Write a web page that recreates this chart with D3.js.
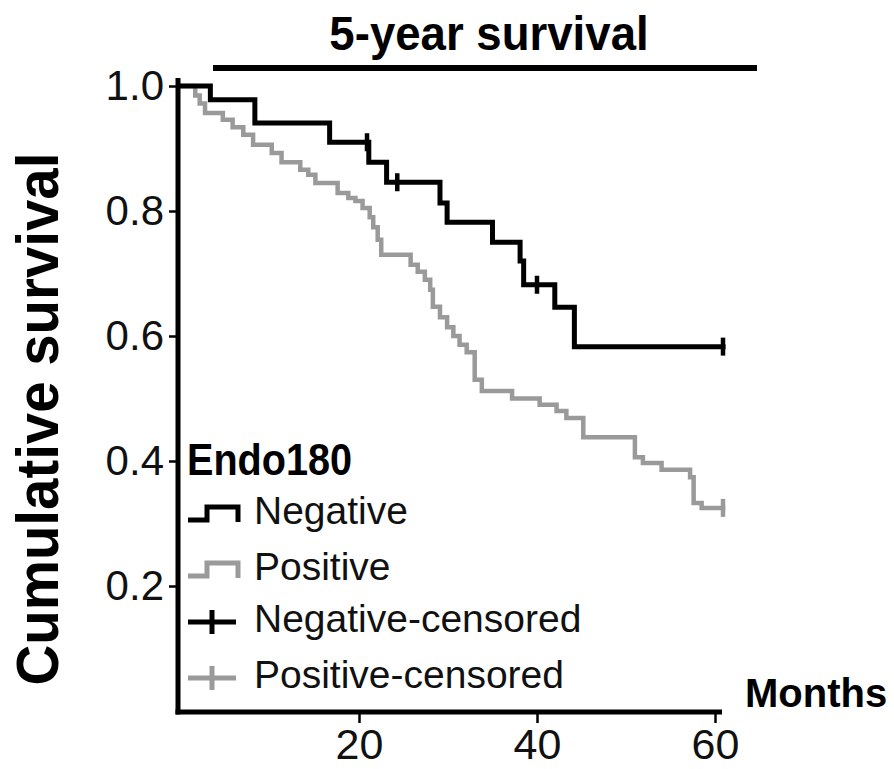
<!DOCTYPE html>
<html>
<head>
<meta charset="utf-8">
<script src="https://cdn.jsdelivr.net/npm/d3@7/dist/d3.min.js"></script>
<style>
  html, body { margin: 0; padding: 0; background: #fff; }
  svg { display: block; font-family: "Liberation Sans", Arial, Helvetica, sans-serif; }
</style>
</head>
<body>
<svg id="chart" width="894" height="769"></svg>
<script>
// Kaplan-Meier steps: time of each event (months) and survival after it
const negTimes = [3.3, 8.3, 16.7, 21.1, 23.1, 29.1, 29.9, 35.0, 38.1, 38.5, 42.0, 44.2];
const negSurv  = [0.978, 0.941, 0.910, 0.878, 0.846, 0.813, 0.782, 0.750, 0.720, 0.682, 0.646, 0.583];
const negCensored = [20.9, 24.3, 40.0, 60.9];

const posTimes = [1.6, 2.1, 2.7, 4.7, 5.8, 7.0, 8.1, 10.2, 11.3, 13.4, 14.3, 15.1, 17.6, 18.8, 19.6,
                  20.4, 21.2, 21.6, 22.1, 22.5, 25.8, 26.6, 27.4, 28.0, 28.3, 29.1, 29.9, 30.6, 31.3,
                  32.1, 33.0, 33.8, 37.2, 40.3, 42.2, 43.3, 45.2, 51.0, 51.9, 54.0, 57.2, 57.6, 58.5];
const posSurv  = [0.985, 0.972, 0.957, 0.946, 0.934, 0.922, 0.906, 0.893, 0.878, 0.866, 0.858, 0.845, 0.829, 0.821, 0.816,
                  0.805, 0.790, 0.774, 0.754, 0.730, 0.714, 0.703, 0.690, 0.674, 0.647, 0.630, 0.614, 0.600, 0.586,
                  0.574, 0.530, 0.512, 0.500, 0.490, 0.480, 0.469, 0.438, 0.406, 0.397, 0.386, 0.374, 0.333, 0.325];
const posCensored = [60.9];

const yTicks = [0.2, 0.4, 0.6, 0.8, 1.0];
const xTicks = [20, 40, 60];

const colors = { Negative: "#000000", Positive: "#9a9a9a" };

const svg = d3.select("#chart");
const x = d3.scaleLinear().domain([0, 60]).range([181, 715]);
const y = d3.scaleLinear().domain([0, 1]).range([711, 86]);

// step series from event table
function steps(times, surv, end) {
  const pts = [[0, 1]];
  times.forEach((t, i) => pts.push([t, surv[i]]));
  pts.push([end, surv[surv.length - 1]]);
  return pts;
}
function survivalAt(times, surv, t) {
  let s = 1;
  times.forEach((ti, i) => { if (ti <= t) s = surv[i]; });
  return s;
}

const line = d3.line()
  .x(d => x(d[0]))
  .y(d => y(d[1]))
  .curve(d3.curveStepAfter);

const series = {
  Negative: { pts: steps(negTimes, negSurv, 60.9), times: negTimes, surv: negSurv, cens: negCensored, width: 5 },
  Positive: { pts: steps(posTimes, posSurv, 60.9), times: posTimes, surv: posSurv, cens: posCensored, width: 4.5 }
};

// Title and its bar
svg.append("text")
  .attr("transform", "translate(489,50) scale(0.95,1)")
  .attr("text-anchor", "middle")
  .attr("font-size", 48).attr("font-weight", "bold")
  .text("5-year survival");
svg.append("line")
  .attr("x1", 213).attr("x2", 757).attr("y1", 68).attr("y2", 68)
  .attr("stroke", "#000").attr("stroke-width", 6);

// Curves (positive first so negative sits on top)
["Positive", "Negative"].forEach(g => {
  const s = series[g];
  svg.append("path")
    .datum(s.pts)
    .attr("d", line)
    .attr("fill", "none")
    .attr("stroke", colors[g])
    .attr("stroke-width", s.width)
    .attr("stroke-linejoin", "miter")
    .attr("stroke-linecap", "square");
  svg.append("g").selectAll("line")
    .data(s.cens)
    .join("line")
    .attr("x1", d => x(d)).attr("x2", d => x(d))
    .attr("y1", d => y(survivalAt(s.times, s.surv, d)) - 9)
    .attr("y2", d => y(survivalAt(s.times, s.surv, d)) + 9)
    .attr("stroke", colors[g])
    .attr("stroke-width", 4.5);
});

// Y axis
const yAxis = svg.append("g")
  .attr("transform", "translate(178,0)")
  .call(d3.axisLeft(y).tickValues(yTicks).tickFormat(d3.format(".1f")).tickSize(9).tickPadding(5));
yAxis.select(".domain").remove();
yAxis.selectAll(".tick line").attr("stroke", "#000").attr("stroke-width", 2.5);
yAxis.selectAll(".tick text")
  .attr("font-size", 42).attr("fill", "#111")
  .attr("font-family", "'Liberation Sans', Arial, sans-serif");

// X axis
const xAxis = svg.append("g")
  .attr("transform", "translate(0,712)")
  .call(d3.axisBottom(x).tickValues(xTicks).tickFormat(d3.format("d")).tickSize(11).tickPadding(5));
xAxis.select(".domain").remove();
xAxis.selectAll(".tick line").attr("stroke", "#000").attr("stroke-width", 2.5);
xAxis.selectAll(".tick text")
  .attr("font-size", 43).attr("fill", "#111")
  .attr("font-family", "'Liberation Sans', Arial, sans-serif");

// Axis lines
svg.append("line")
  .attr("x1", 178).attr("x2", 178).attr("y1", 78).attr("y2", 714.5)
  .attr("stroke", "#000").attr("stroke-width", 5);
svg.append("line")
  .attr("x1", 175.5).attr("x2", 722).attr("y1", 712).attr("y2", 712)
  .attr("stroke", "#000").attr("stroke-width", 5);

// Axis titles
svg.append("text")
  .attr("transform", "translate(58,419) rotate(-90) scale(0.94,1)")
  .attr("text-anchor", "middle")
  .attr("font-size", 60).attr("font-weight", "bold")
  .text("Cumulative survival");
svg.append("text")
  .attr("x", 745).attr("y", 707)
  .attr("font-size", 40).attr("font-weight", "bold")
  .text("Months");

// Legend
const legend = svg.append("g");
legend.append("text")
  .attr("transform", "translate(187,475) scale(0.9,1)")
  .attr("font-size", 44).attr("font-weight", "bold")
  .text("Endo180");

const legendItems = [
  { label: "Negative", group: "Negative", kind: "step", yMid: 514, base: 524 },
  { label: "Positive", group: "Positive", kind: "step", yMid: 570, base: 580 },
  { label: "Negative-censored", group: "Negative", kind: "cross", yMid: 622, base: 632 },
  { label: "Positive-censored", group: "Positive", kind: "cross", yMid: 678, base: 688 }
];
legendItems.forEach(it => {
  const c = colors[it.group];
  if (it.kind === "step") {
    legend.append("path")
      .attr("d", `M188,${it.yMid + 6}H207V${it.yMid - 7}H238V${it.yMid + 8}`)
      .attr("fill", "none").attr("stroke", c).attr("stroke-width", 5);
  } else {
    legend.append("line")
      .attr("x1", 188).attr("x2", 236).attr("y1", it.yMid).attr("y2", it.yMid)
      .attr("stroke", c).attr("stroke-width", 5);
    legend.append("line")
      .attr("x1", 212).attr("x2", 212).attr("y1", it.yMid - 12).attr("y2", it.yMid + 12)
      .attr("stroke", c).attr("stroke-width", 5);
  }
  legend.append("text")
    .attr("x", 254).attr("y", it.base)
    .attr("font-size", 39).attr("fill", "#111")
    .text(it.label);
});
</script>
</body>
</html>
